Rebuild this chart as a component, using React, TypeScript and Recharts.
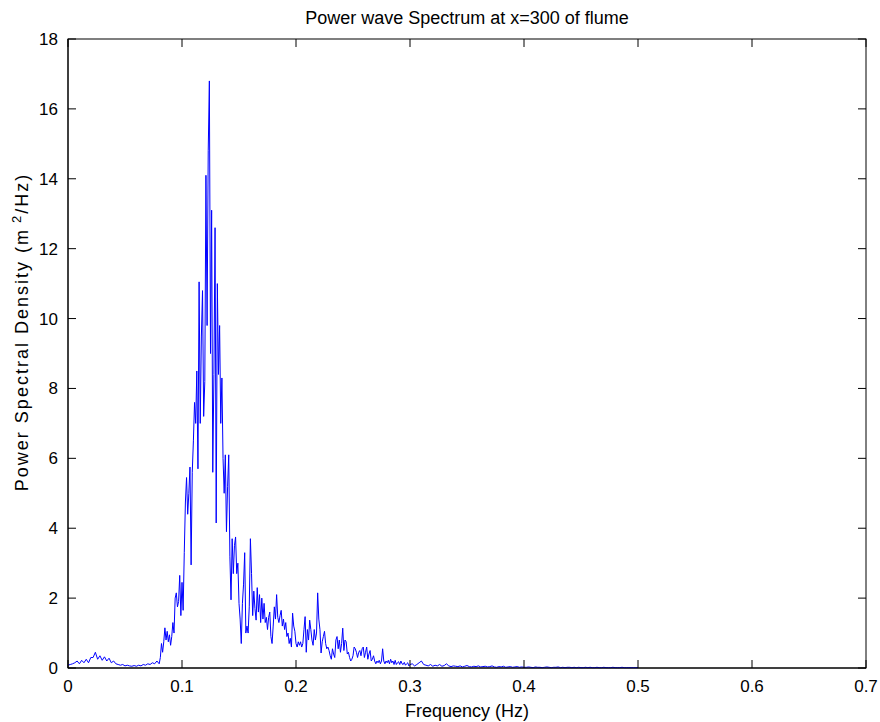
import { LineChart, Line, XAxis, YAxis } from 'recharts';

// PSD, three bands with their own bin width (Hz)
const lowStart = 0.0;
const lowStep = 0.002;
const lowBand = [
  0.08, 0.1, 0.12, 0.15, 0.2, 0.12, 0.22, 0.15, 0.25, 0.15,
  0.3, 0.3, 0.45, 0.25, 0.35, 0.22, 0.32, 0.2, 0.28, 0.15,
  0.2, 0.12, 0.1, 0.08, 0.1, 0.06, 0.08, 0.06, 0.05, 0.07,
  0.05, 0.08, 0.06, 0.1, 0.08, 0.12, 0.1, 0.15, 0.12, 0.2,
];

const peakStart = 0.08;
const peakStep = 0.001;
const peakBand = [
  0.12, 0.3, 0.7, 0.45, 0.75, 1.15, 0.8, 1.05, 0.75, 0.95, // 0.080
  0.65, 0.9, 1.3, 1.0, 2.0, 2.15, 1.75, 1.9, 2.65, 1.5, // 0.090
  2.45, 1.65, 3.3, 4.75, 5.45, 4.4, 5.0, 5.75, 2.95, 5.6, // 0.100
  6.5, 7.6, 7.0, 8.5, 5.7, 11.05, 7.0, 9.5, 10.8, 7.2, // 0.110
  8.2, 14.1, 9.8, 14.8, 16.8, 9.0, 13.1, 5.6, 8.4, 12.6, // 0.120
  4.15, 11.0, 8.4, 9.8, 7.0, 8.3, 6.0, 5.0, 6.1, 3.9, // 0.130
  5.2, 6.1, 3.2, 1.95, 3.7, 2.7, 3.5, 3.75, 2.7, 3.0, // 0.140
  1.85, 1.4, 0.7, 1.85, 2.4, 3.3, 1.0, 1.2, 1.0, 1.75, // 0.150
  3.7, 2.7, 1.5, 2.2, 1.7, 1.37, 2.3, 1.6, 2.1, 1.3, // 0.160
  2.0, 1.4, 1.85, 1.3, 1.45, 1.1, 1.45, 1.6, 0.9, 0.7, // 0.170
  1.2, 1.75, 1.4, 2.1, 1.45, 1.3, 1.5, 1.65, 1.2, 1.4, // 0.180
  1.1, 1.3, 0.9, 1.0, 0.7, 0.85, 0.6, 1.57, 1.2, 1.05, // 0.190
  0.7, 0.6, 0.75, 0.65, 0.75, 0.6, 0.7, 1.1, 1.47, 0.45, // 0.200
  1.1, 0.8, 1.37, 1.1, 0.8, 0.65, 1.1, 0.8, 1.0, 2.15, // 0.210
  1.4, 1.1, 0.43, 0.75, 0.9, 1.05, 0.7, 0.55, 0.6, 0.5, // 0.220
  0.35, 0.25, 0.55, 0.4, 0.3, 0.8, 0.9, 0.55, 0.8, 0.45, // 0.230
  0.7, 1.14, 0.5, 0.8, 0.75, 0.4, 0.45, 0.3, 0.2, 0.25, // 0.240
  0.35, 0.6, 0.55, 0.45, 0.3, 0.45, 0.5, 0.35, 0.55, 0.6, // 0.250
  0.3, 0.45, 0.6, 0.25, 0.4, 0.5, 0.2, 0.25, 0.35, 0.2, // 0.260
  0.12, 0.2, 0.15, 0.22, 0.12, 0.2, 0.55, 0.2, 0.12, 0.2, // 0.270
  0.15, 0.22, 0.12, 0.25, 0.15, 0.2, 0.1, 0.22, 0.1, 0.15, // 0.280
  0.18, 0.1, 0.2, 0.12, 0.1, 0.16, 0.08, 0.12, 0.15, 0.06, // 0.290
  0.1, // 0.300
];

const tailStart = 0.302;
const tailStep = 0.002;
const tailBand = [
  0.12, 0.06, 0.1, 0.15, 0.2, 0.1, 0.08, 0.06, 0.1, 0.05,
  0.08, 0.06, 0.1, 0.05, 0.07, 0.12, 0.06, 0.04, 0.06, 0.05,
  0.04, 0.06, 0.03, 0.05, 0.07, 0.04, 0.03, 0.05, 0.04, 0.06,
  0.03, 0.04, 0.05, 0.03, 0.04, 0.06, 0.03, 0.02, 0.04, 0.03,
  0.05, 0.02, 0.03, 0.04, 0.02, 0.03, 0.04, 0.02, 0.03, 0.02,
  0.02, 0.03, 0.02, 0.01, 0.03, 0.02, 0.02, 0.01, 0.02, 0.03,
  0.02, 0.01, 0.02, 0.02, 0.03, 0.01, 0.02, 0.01, 0.02, 0.02,
  0.01, 0.02, 0.01, 0.02, 0.01, 0.01, 0.02, 0.01, 0.02, 0.01,
  0.01, 0.02, 0.01, 0.01, 0.02, 0.01, 0.01, 0.01, 0.02, 0.01,
  0.01, 0.01, 0.02, 0.01, 0.01, 0.01, 0.01, 0.01, 0.01, 0.01,
];

const xTicks = [0, 0.1, 0.2, 0.3, 0.4, 0.5, 0.6, 0.7];
const yTicks = [0, 2, 4, 6, 8, 10, 12, 14, 16, 18];

const band = (start: number, step: number, vals: number[]) =>
  vals.map((v, i) => ({ f: +(start + i * step).toFixed(4), v }));

const data = [
  ...band(lowStart, lowStep, lowBand),
  ...band(peakStart, peakStep, peakBand),
  ...band(tailStart, tailStep, tailBand),
];

// layout of the axes box (page px)
const W = 880;
const H = 722;
const LEFT = 68;
const RIGHT = 866;
const TOP = 39;
const BOTTOM = 668;
const TICK = 8;
const FONT = '"Liberation Sans", Arial, Helvetica, sans-serif';

// matlab style: ticks point inward, mirrored on the top/right edges
const BottomTick = (props: any) => {
  const { x, payload } = props;
  return (
    <g>
      <line x1={x} x2={x} y1={BOTTOM} y2={BOTTOM - TICK} stroke="#000" />
      <line x1={x} x2={x} y1={TOP} y2={TOP + TICK} stroke="#000" />
      <text x={x} y={BOTTOM + 24} textAnchor="middle" fontSize={17} fontFamily={FONT} fill="#000">
        {String(payload.value)}
      </text>
    </g>
  );
};

const LeftTick = (props: any) => {
  const { y, payload } = props;
  return (
    <g>
      <line x1={LEFT} x2={LEFT + TICK} y1={y} y2={y} stroke="#000" />
      <line x1={RIGHT} x2={RIGHT - TICK} y1={y} y2={y} stroke="#000" />
      <text x={LEFT - 10} y={y + 6} textAnchor="end" fontSize={17} fontFamily={FONT} fill="#000">
        {String(payload.value)}
      </text>
    </g>
  );
};

export default function App() {
  return (
    <div style={{ position: 'fixed', left: 0, top: 0, width: W, height: H, background: '#fff' }}>
      <LineChart
        width={W}
        height={H}
        data={data}
        margin={{ top: TOP, right: W - RIGHT, left: LEFT - 40, bottom: H - BOTTOM - 30 }}
      >
        <XAxis
          dataKey="f"
          type="number"
          domain={[0, 0.7]}
          ticks={xTicks}
          height={30}
          tickSize={0}
          tickLine={false}
          tick={<BottomTick />}
          axisLine={{ stroke: '#000' }}
          interval={0}
        />
        <YAxis
          type="number"
          domain={[0, 18]}
          ticks={yTicks}
          width={40}
          tickSize={0}
          tickLine={false}
          tick={<LeftTick />}
          axisLine={{ stroke: '#000' }}
          interval={0}
        />
        <Line
          type="linear"
          dataKey="v"
          stroke="#0000ff"
          strokeWidth={1}
          dot={false}
          activeDot={false}
          isAnimationActive={false}
        />
        <rect x={LEFT} y={TOP} width={RIGHT - LEFT} height={BOTTOM - TOP} fill="none" stroke="#000" />
        <text x={(LEFT + RIGHT) / 2} y={24} textAnchor="middle" fontSize={18} fontFamily={FONT} fill="#000">
          Power wave Spectrum at x=300 of flume
        </text>
        <text x={(LEFT + RIGHT) / 2} y={717} textAnchor="middle" fontSize={18} fontFamily={FONT} fill="#000">
          Frequency (Hz)
        </text>
        <text
          transform="translate(28, 332) rotate(-90)"
          textAnchor="middle"
          fontSize={18}
          letterSpacing={2}
          fontFamily={FONT}
          fill="#000"
        >
          Power Spectral Density (m
          <tspan dx={5} dy={-7} fontSize={13}>2</tspan>
          <tspan dy={7}>/Hz)</tspan>
        </text>
      </LineChart>
    </div>
  );
}
